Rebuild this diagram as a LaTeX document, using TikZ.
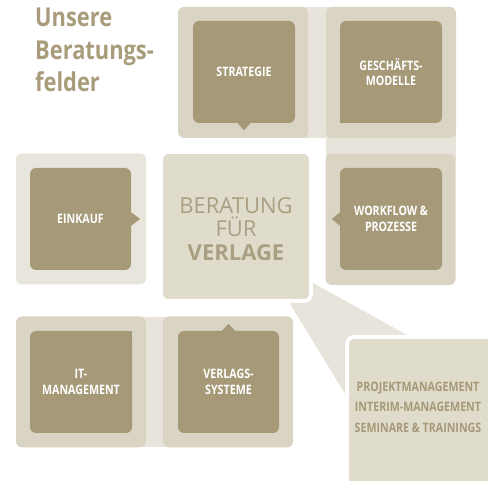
\documentclass[tikz,border=0pt]{standalone}
\usepackage{fontspec}
\setmainfont{Open Sans}
\newfontfamily\condfont[FakeStretch=0.82]{Open Sans}
\newfontfamily\headfont[FakeStretch=0.84]{Open Sans}

\definecolor{darkc}{HTML}{A59978}
\definecolor{outerc}{HTML}{D9D4C4}
\definecolor{paleouter}{HTML}{E8E5DC}
\definecolor{linkc}{HTML}{E8E4DC}
\definecolor{corec}{HTML}{E0DCCC}
\definecolor{titlec}{HTML}{A89C7B}
\definecolor{coretext}{HTML}{A99F82}

\tikzset{
  outerbox/.style={fill=outerc, rounded corners=6pt, minimum width=130pt, minimum height=131pt, inner sep=0pt},
  innerbox/.style={fill=darkc, rounded corners=6pt, minimum width=102pt, minimum height=102pt, inner sep=0pt,
    text=white, align=center, font=\condfont\bfseries\fontsize{13}{15.5}\selectfont},
  linkband/.style={fill=linkc},
}

\begin{document}
\begin{tikzpicture}[x=1pt,y=-1pt]
\useasboundingbox (0,0) rectangle (488,481);

% title
\node[anchor=north west, inner sep=0pt, align=left, text=titlec,
      font=\headfont\bfseries\fontsize{26}{32.5}\selectfont] (title) at (35,8)
  {Unsere\\Beratungs-\\felder};

% pale bands joining neighbouring fields
\fill[linkband] (300,7) rectangle (335,138);
\fill[linkband] (326,130) rectangle (456,160);
\fill[linkband] (140,317) rectangle (170,447);

% wedge from the core to the extra services
\fill[linkc] (259,253) -- (425,345) -- (350,402) -- cycle;

% outer frames
\node[outerbox] (stratO) at (243,72.5) {};
\node[outerbox] (geschO) at (391,72.5) {};
\node[outerbox, fill=paleouter] (einkO) at (81,219) {};
\node[outerbox] (workO) at (390.5,219.5) {};
\node[outerbox] (itO) at (81,382) {};
\node[outerbox] (verlO) at (228,382) {};

% core field
\node[fill=corec, draw=white, line width=4pt, rounded corners=7pt,
      minimum width=150pt, minimum height=149pt, inner sep=0pt,
      align=center, text=coretext, font=\fontsize{22}{23.5}\selectfont] (core) at (236,226.5)
  {\rule{0pt}{21pt}BERATUNG\\FÜR\\\textbf{VERLAGE}};

% extra services
\node[fill=corec, draw=white, line width=4pt, rounded corners=7pt,
      minimum width=160pt, minimum height=160pt, anchor=north west] (extra) at (345,335) {};
\node[align=center, text=darkc, font=\condfont\bfseries\fontsize{13}{20.5}\selectfont] (svc) at (418,407)
  {PROJEKTMANAGEMENT\\INTERIM-MANAGEMENT\\SEMINARE \& TRAININGS};

% inner fields
\node[innerbox] (strat) at (244,72) {STRATEGIE};
\node[innerbox] (gesch) at (391,72) {GESCHÄFTS-\\MODELLE};
\node[innerbox, minimum width=101pt] (eink) at (80.5,219) {EINKAUF};
\node[innerbox] (work) at (391,219) {WORKFLOW \&\\PROZESSE};
\node[innerbox] (it) at (81,382) {IT-\\MANAGEMENT};
\node[innerbox, minimum width=101pt] (verl) at (228.5,382) {VERLAGS-\\SYSTEME};

% pointers towards the core
\fill[darkc] (strat.south) ++(-7,-0.5) -- ++(7,7.5) -- ++(7,-7.5) -- cycle;
\fill[darkc] (eink.east) ++(-0.5,-7) -- ++(9.5,7) -- ++(-9.5,7) -- cycle;
\fill[darkc] (work.west) ++(0.5,-7) -- ++(-8.5,7) -- ++(8.5,7) -- cycle;
\fill[darkc] (verl.north) ++(-7,0.5) -- ++(7,-7.5) -- ++(7,7.5) -- cycle;

% square corners
\fill[darkc] (gesch.south west) rectangle ++(7,-7);
\fill[darkc] (it.north east) rectangle ++(-7,7);
\end{tikzpicture}
\end{document}
